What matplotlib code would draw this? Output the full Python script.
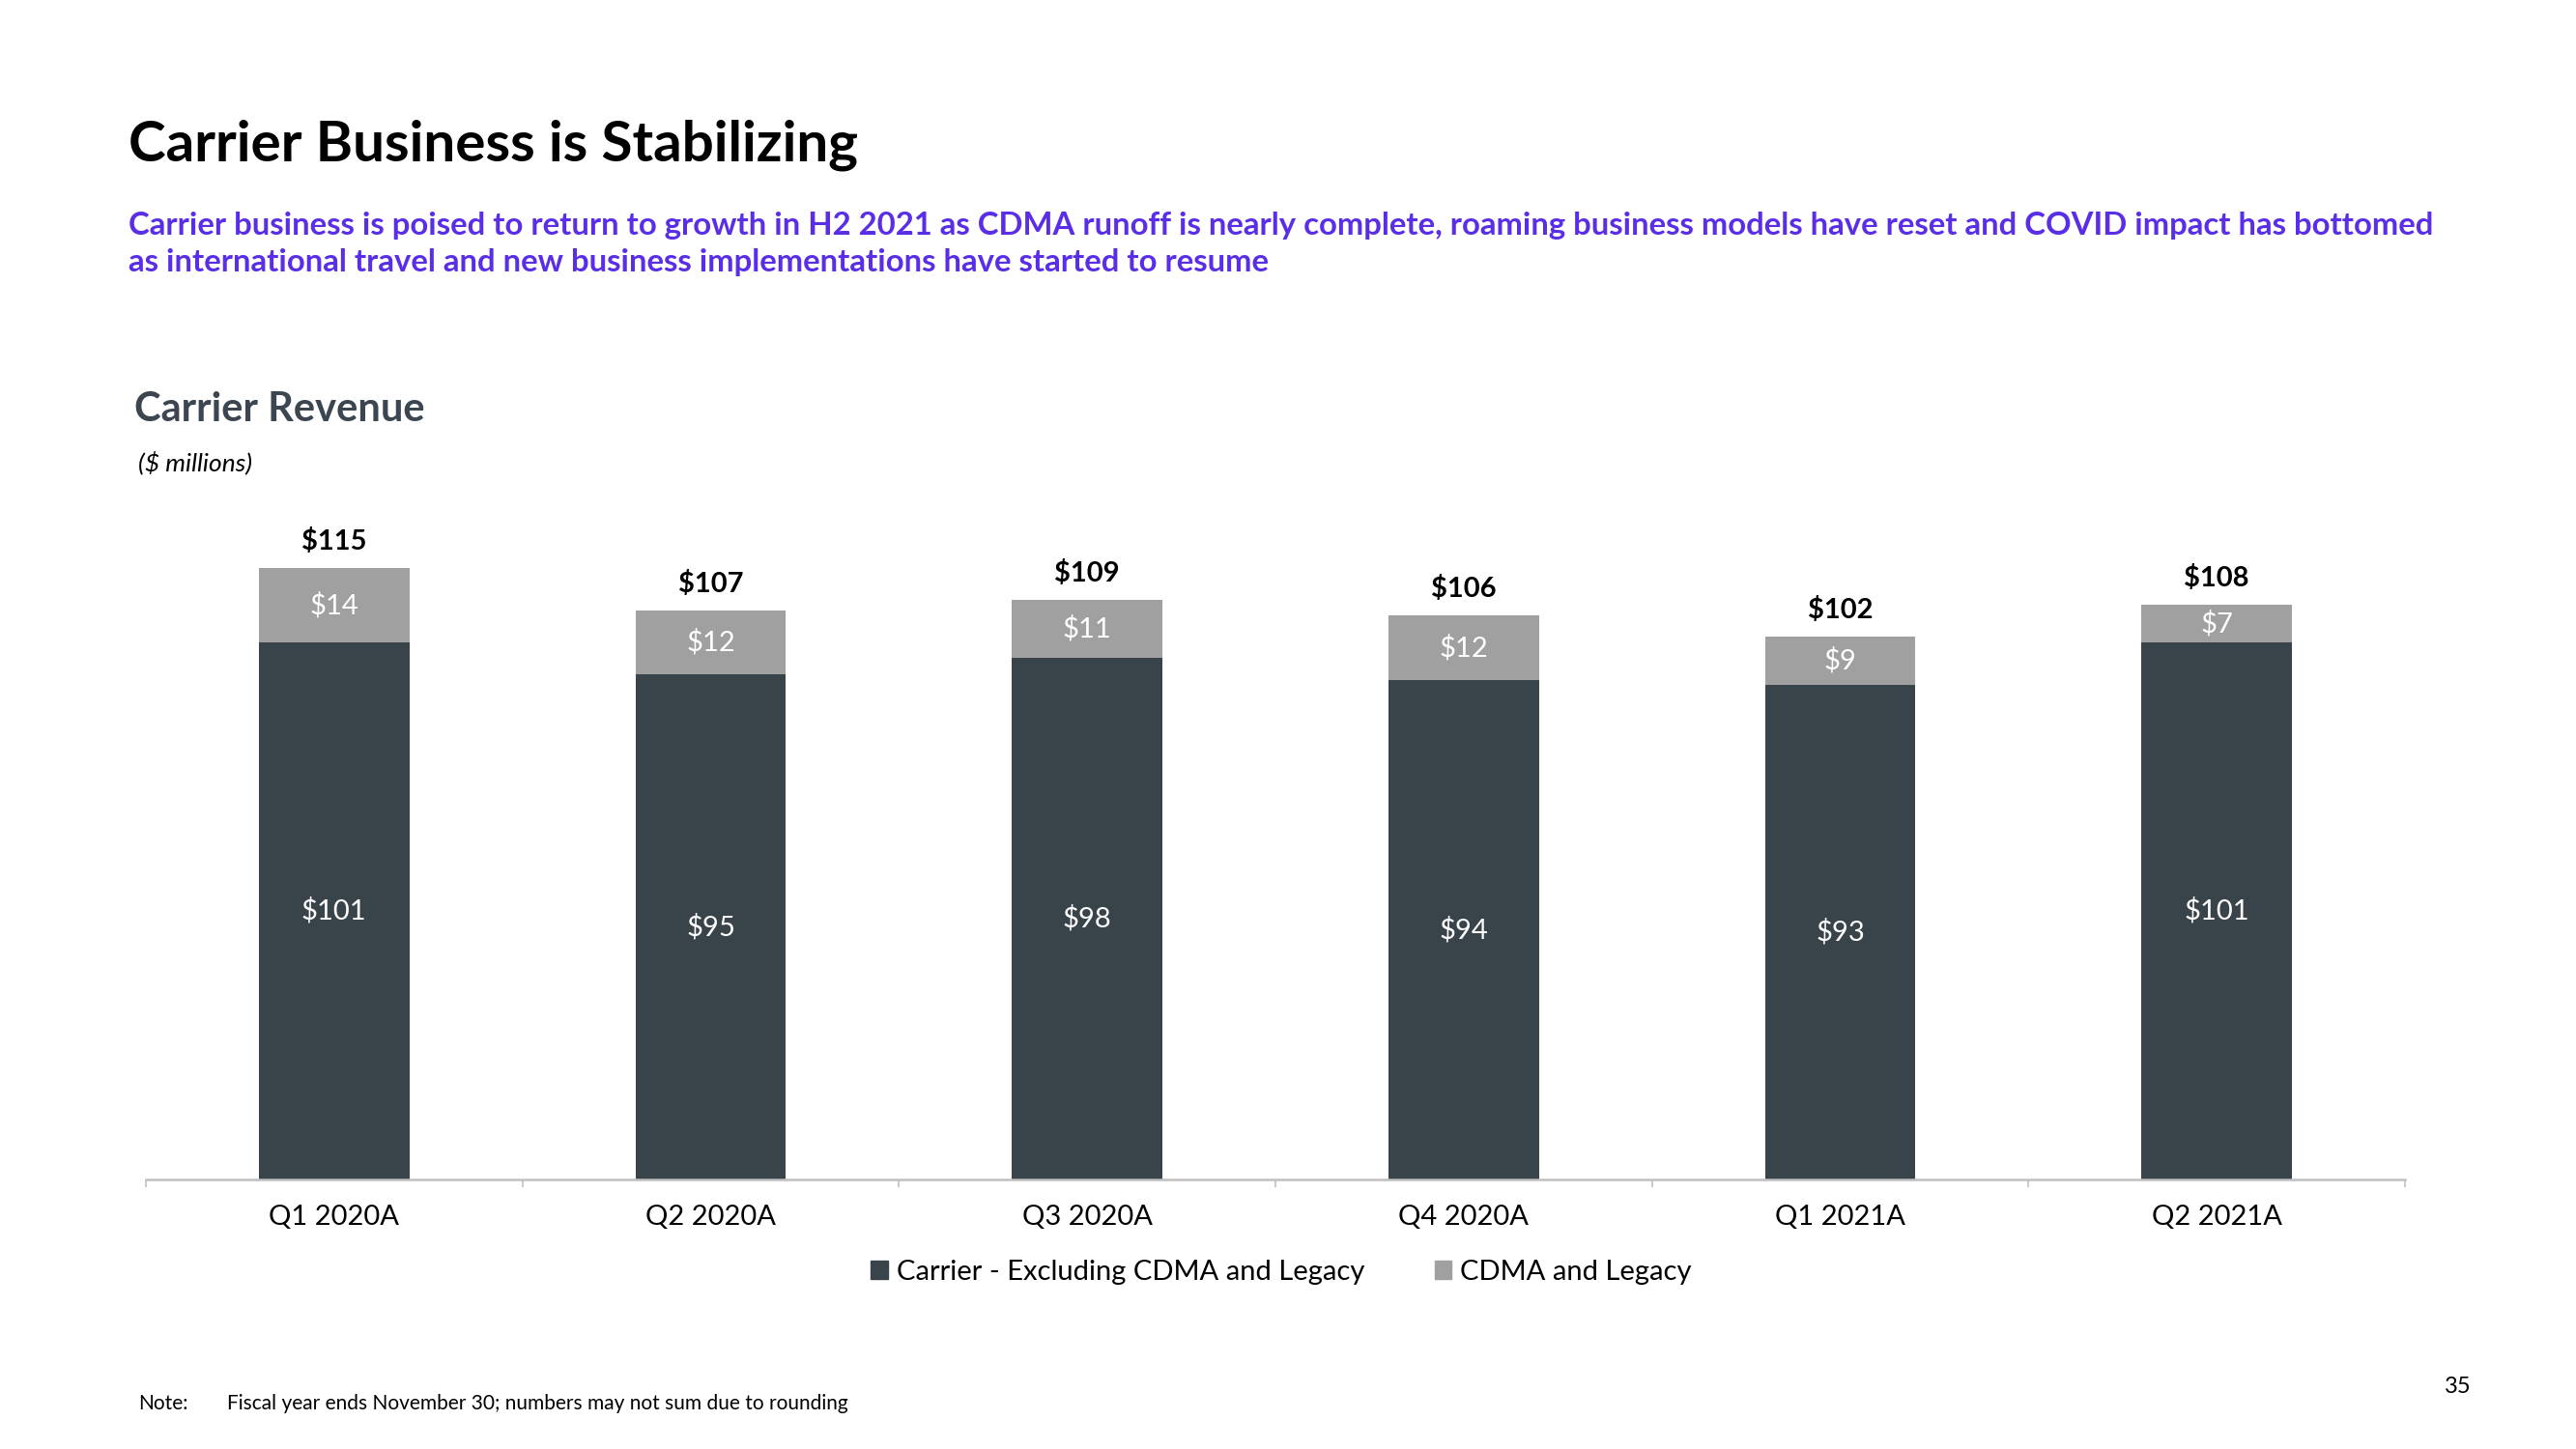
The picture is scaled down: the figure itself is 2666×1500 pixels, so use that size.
import numpy as np
import matplotlib
matplotlib.use('Agg')
import matplotlib.pyplot as plt
import matplotlib.patches as mpatches

plt.rcParams['font.family'] = ['Lato', 'DejaVu Sans']

# data
quarters = ['Q1 2020A', 'Q2 2020A', 'Q3 2020A', 'Q4 2020A', 'Q1 2021A', 'Q2 2021A']
carrier_ex = [101, 95, 98, 94, 93, 101]
cdma_legacy = [14, 12, 11, 12, 9, 7]
totals = [115, 107, 109, 106, 102, 108]

DARK = '#39434a'
GREY = '#a0a0a0'
PURPLE = '#5a2ee6'

W, H = 2666, 1500
fig = plt.figure(figsize=(W / 100, H / 100), dpi=100)
fig.patch.set_facecolor('white')

ax = fig.add_axes([151 / W, 1 - 1221 / H, (2489 - 151) / W, (1221 - 540) / H])

x = np.arange(len(quarters))
ax.bar(x, carrier_ex, width=0.4, color=DARK, label='Carrier - Excluding CDMA and Legacy')
ax.bar(x, cdma_legacy, width=0.4, bottom=carrier_ex, color=GREY, label='CDMA and Legacy')

ax.set_xlim(-0.5, len(quarters) - 0.5)
ax.set_ylim(0, 123.7)

for i in range(len(quarters)):
    ax.text(x[i], carrier_ex[i] / 2, f'${carrier_ex[i]}', ha='center', va='center',
            color='white', fontsize=21)
    ax.text(x[i], carrier_ex[i] + cdma_legacy[i] / 2, f'${cdma_legacy[i]}', ha='center',
            va='center', color='white', fontsize=21)
    ax.annotate(f'${totals[i]}', (x[i], carrier_ex[i] + cdma_legacy[i]),
                xytext=(0, 20), textcoords='offset points', ha='center', va='center',
                fontsize=21, fontweight='bold', color='black')

for s in ['top', 'right', 'left']:
    ax.spines[s].set_visible(False)
ax.spines['bottom'].set_color('#c0c0c0')
ax.spines['bottom'].set_linewidth(1.8)
ax.set_yticks([])
ax.set_xticks(x)
ax.set_xticklabels(quarters, fontsize=21, color='black')
ax.tick_params(axis='x', which='major', length=0, pad=19)
ax.set_xticks(np.arange(-0.5, len(quarters)), minor=True)
ax.tick_params(axis='x', which='minor', length=6, width=1.2, color='#c0c0c0', direction='out')

handles = [mpatches.Patch(color=DARK, label='Carrier - Excluding CDMA and Legacy'),
           mpatches.Patch(color=GREY, label='CDMA and Legacy')]
fig.legend(handles=handles, loc='center', bbox_to_anchor=(1326 / W, 1 - 1317 / H), ncol=2,
           frameon=False, fontsize=21, handlelength=0.6, handleheight=0.6,
           handletextpad=0.3, columnspacing=2.5)

# headings
fig.text(133 / W, 1 - 150 / H, 'Carrier Business is Stabilizing', fontsize=42,
         fontweight='bold', color='black', va='center', ha='left')
fig.text(133 / W, 1 - 234 / H,
         'Carrier business is poised to return to growth in H2 2021 as CDMA runoff is nearly '
         'complete, roaming business models have reset and COVID impact has bottomed',
         fontsize=23.7, fontweight='bold', color=PURPLE, va='center', ha='left')
fig.text(133 / W, 1 - 271 / H,
         'as international travel and new business implementations have started to resume',
         fontsize=23.7, fontweight='bold', color=PURPLE, va='center', ha='left')
fig.text(139 / W, 1 - 424 / H, 'Carrier Revenue', fontsize=30, fontweight='bold',
         color='#3c4650', va='center', ha='left')
fig.text(143 / W, 1 - 479 / H, '($ millions)', fontsize=19, style='italic',
         color='black', va='center', ha='left')

fig.text(143 / W, 1 - 1453 / H, 'Note:', fontsize=15, color='black', va='center')
fig.text(235 / W, 1 - 1453 / H, 'Fiscal year ends November 30; numbers may not sum due to rounding',
         fontsize=15, color='black', va='center')
fig.text(2530 / W, 1 - 1435 / H, '35', fontsize=17, color='black', va='center', ha='left')

fig.savefig('out.png', dpi=100, facecolor='white')
